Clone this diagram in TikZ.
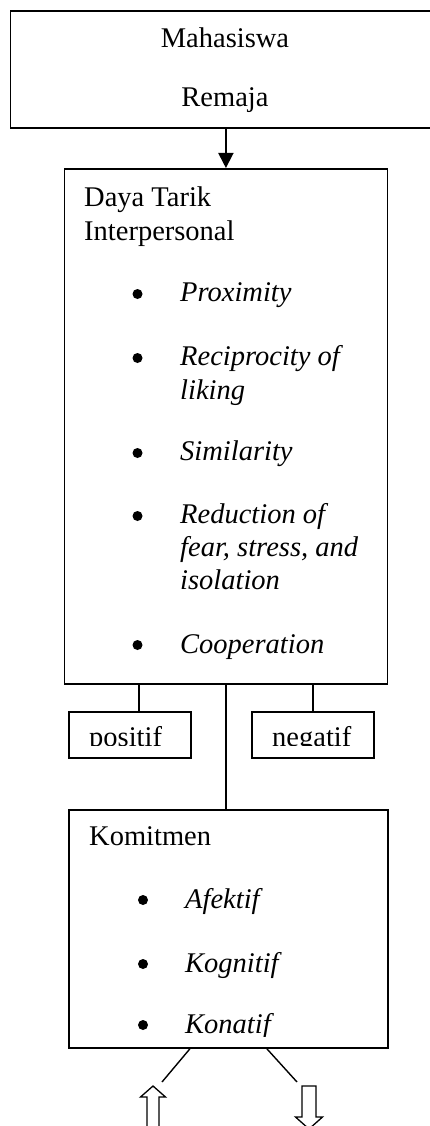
\documentclass[tikz,border=0pt]{standalone}
\usepackage{fontspec}
\setmainfont{Liberation Serif}
\usetikzlibrary{arrows.meta,calc}
\tikzset{
  box/.style={draw, line width=1.8pt, rectangle, inner sep=0pt, anchor=north west},
  conn/.style={line width=1.8pt},
  diag/.style={line width=1.4pt},
  hollow/.style={draw, line width=1.3pt, fill=white, line join=miter},
  txt/.style={inner sep=0pt, anchor=base west, font=\fontsize{28.5}{33}\selectfont},
  ctxt/.style={txt, anchor=base},
  itxt/.style={txt, font=\fontsize{28.5}{33}\selectfont\itshape},
  bul/.style={circle, fill, inner sep=0pt, minimum size=10pt}
}
\begin{document}
\begin{tikzpicture}[x=1pt, y=-1pt]
\useasboundingbox (0,0) rectangle (430,1126);

% boxes
\node[box, minimum width=431pt, minimum height=117pt] (top) at (9.5,10) {};
\node[box, minimum width=323pt, minimum height=515pt] (daya) at (63.5,168) {};
\node[box, minimum width=122pt, minimum height=46pt] (pos) at (68,711) {};
\node[box, minimum width=122pt, minimum height=46pt] (neg) at (251,711) {};
\node[box, minimum width=319pt, minimum height=238pt] (kom) at (68,809) {};

% top box text
\node[ctxt] (mhs) at (225,48) {Mahasiswa};
\node[ctxt] (rem) at (225,107) {Remaja};

% Daya Tarik box text
\node[txt] (dt1) at (84,207) {Daya Tarik};
\node[txt] (dt2) at (84,240) {Interpersonal};
\node[bul] (b1) at (137.5,294) {};
\node[itxt] (i1) at (180,301) {Proximity};
\node[bul] (b2) at (137.5,358) {};
\node[itxt] (i2a) at (180,365) {Reciprocity of};
\node[itxt] (i2b) at (180,399) {liking};
\node[bul] (b3) at (137.5,453) {};
\node[itxt] (i3) at (180,460) {Similarity};
\node[bul] (b4) at (137.5,516) {};
\node[itxt] (i4a) at (180,523) {Reduction of};
\node[itxt] (i4b) at (180,556) {fear, stress, and};
\node[itxt] (i4c) at (180,589) {isolation};
\node[bul] (b5) at (137.5,645) {};
\node[itxt] (i5) at (180,653) {Cooperation};

% positif / negatif (text clipped by the box)
\begin{scope}
  \clip (68,711) rectangle (190,745.5);
  \node[txt] (ptxt) at (89,746) {positif};
\end{scope}
\begin{scope}
  \clip (251,711) rectangle (373,745.5);
  \node[txt] (ntxt) at (272,746) {negatif};
\end{scope}

% Komitmen box text
\node[txt] (km) at (89,845) {Komitmen};
\node[bul] (k1) at (143,900) {};
\node[itxt] (ka) at (185,908) {Afektif};
\node[bul] (k2) at (143,964) {};
\node[itxt] (kb) at (185,972) {Kognitif};
\node[bul] (k3) at (143,1025) {};
\begin{scope}
  \clip (68,990) rectangle (387,1036);
  \node[itxt] (kc) at (185,1033) {Konatif};
\end{scope}

% connectors
\draw[conn, -{Triangle[width=15pt,length=15pt]}] (top.south) -- (daya.north);
\draw[conn] (daya.south) -- (daya.south |- kom.north);
\draw[conn] ([xshift=9pt]pos.north) -- ([xshift=9pt]pos.north |- daya.south);
\draw[conn] (neg.north) -- (neg.north |- daya.south);

\coordinate (dl) at (162,1082);
\coordinate (dr) at (297,1082);
\draw[diag] ([xshift=-38.5pt]kom.south) -- (dl);
\draw[diag] ([xshift=38.5pt]kom.south) -- (dr);

% hollow block arrows
\coordinate (upa) at (153,1086);
\draw[hollow] (upa) -- ++(12.5,11) -- ++(-6.5,0) -- ++(0,45) -- ++(-12,0) -- ++(0,-45) -- ++(-6.5,0) -- cycle;
\coordinate (dna) at (309,1086);
\draw[hollow] (dna) ++(-7,0) -- ++(14,0) -- ++(0,31) -- ++(6.5,0) -- ++(-13.5,12) -- ++(-13.5,-12) -- ++(6.5,0) -- cycle;
\end{tikzpicture}
\end{document}
